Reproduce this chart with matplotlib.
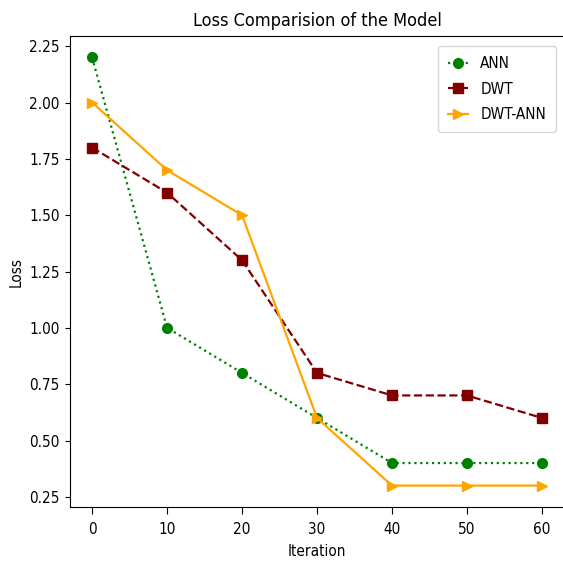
import matplotlib
matplotlib.use("Agg")
import matplotlib.pyplot as plt

# iterations and loss values
iterations = [0, 10, 20, 30, 40, 50, 60]
ann_loss = [2.2, 1.0, 0.8, 0.6, 0.4, 0.4, 0.4]
dwt_loss = [1.8, 1.6, 1.3, 0.8, 0.7, 0.7, 0.6]
dwt_ann_loss = [2.0, 1.7, 1.5, 0.6, 0.3, 0.3, 0.3]

plt.rcParams['font.family'] = 'DejaVu Sans'
plt.rcParams['font.stretch'] = 'condensed'

fig = plt.figure(figsize=(5.63, 5.63), dpi=100)
# right edge of the axes sits just past the figure edge, as in the cropped original
ax = fig.add_axes([0.1236, 0.0995, 0.879, 0.8365])

ax.plot(iterations, ann_loss, color='green', linestyle=':', marker='o',
        markersize=7, linewidth=1.6, label='ANN')
ax.plot(iterations, dwt_loss, color='maroon', linestyle='--', marker='s',
        markersize=7, linewidth=1.6, label='DWT')
ax.plot(iterations, dwt_ann_loss, color='orange', linestyle='-', marker='>',
        markersize=7, linewidth=1.6, label='DWT-ANN')

ax.set_title("Loss Comparision of the Model", fontsize=13, pad=7)
ax.set_xlabel("Iteration", fontsize=11, labelpad=5)
ax.set_ylabel("Loss", fontsize=11)
ax.set_xticks(iterations)
ax.tick_params(labelsize=11)
ax.tick_params(axis='x', length=5, pad=5.5)
ax.legend(loc='upper right', bbox_to_anchor=(0.998, 0.995), fontsize=11,
          handlelength=1.3, labelspacing=0.7, borderpad=0.65)

fig.savefig("out.png", dpi=100)
